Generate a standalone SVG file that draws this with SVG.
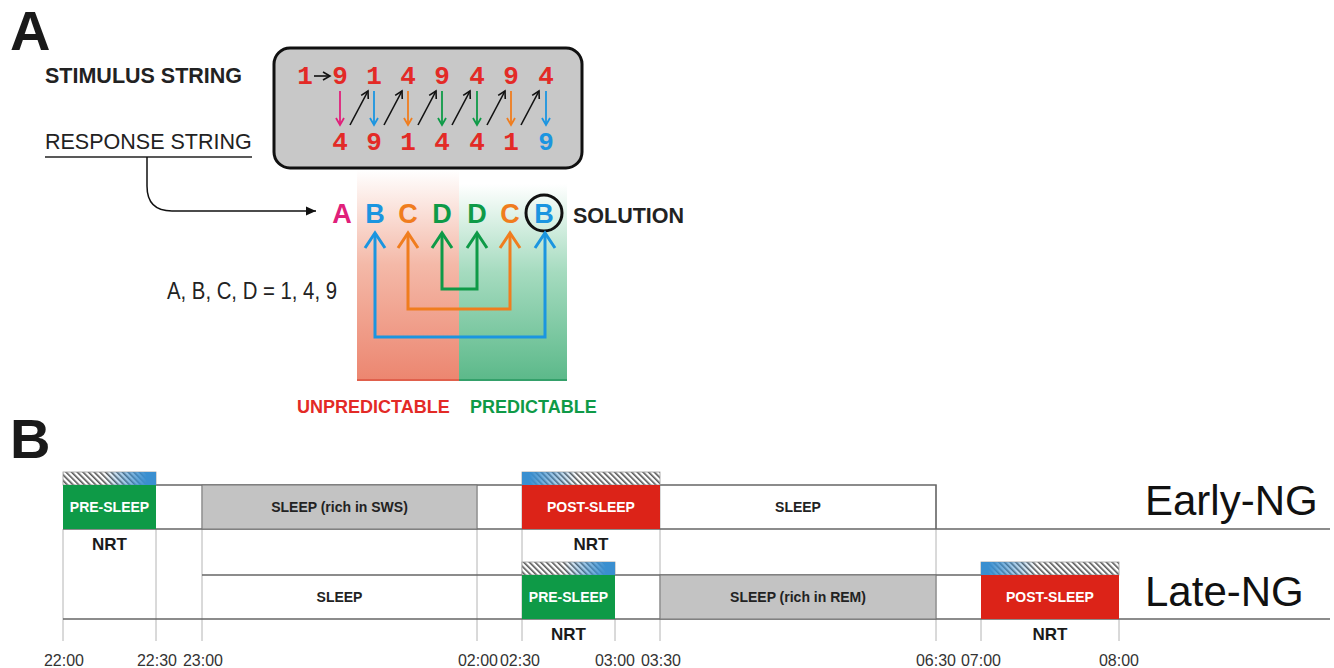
<svg xmlns="http://www.w3.org/2000/svg" width="1334" height="668" viewBox="0 0 1334 668">
<style>
text{font-family:"Liberation Sans",Arial,sans-serif}
.big{font-size:56px;font-weight:bold;fill:#1a1a1a}
.lbl{font-size:21.5px;fill:#222}
.b{font-weight:bold}
.dig{font-family:"Liberation Mono","Courier New",monospace;font-size:26px;font-weight:bold;text-anchor:middle}
.let{font-size:27px;font-weight:bold;text-anchor:middle}
.red{fill:#e32a26}.blue{fill:#1b95e0}.orange{fill:#f07d1e}.green{fill:#0e9a47}.mag{fill:#e0207a}
.bx{font-size:14px;font-weight:bold;text-anchor:middle}
.wt{fill:#fff}.dk{fill:#222}
.nrt{font-size:17px;font-weight:bold;text-anchor:middle;fill:#1a1a1a}
.tm{font-size:16px;text-anchor:middle;fill:#333}
.grp{font-size:42px;fill:#111}
.grid{stroke:#b4b4b4;stroke-width:1;fill:none}
.row{stroke:#666;stroke-width:1.5;fill:none}
.hb{stroke:#999;stroke-width:0.8}
</style>
<defs>
<pattern id="hatch" width="4" height="4" patternUnits="userSpaceOnUse" patternTransform="rotate(-45)">
<rect width="4" height="4" fill="#fff"/><rect width="1.6" height="4" fill="#555"/>
</pattern>
<linearGradient id="blueR" x1="0" x2="1" y1="0" y2="0">
<stop offset="0.45" stop-color="#3a8fd0" stop-opacity="0"/><stop offset="0.9" stop-color="#3a8fd0" stop-opacity="1"/>
</linearGradient>
<linearGradient id="blueL" x1="0" x2="1" y1="0" y2="0">
<stop offset="0.05" stop-color="#3a8fd0" stop-opacity="1"/><stop offset="0.4" stop-color="#3a8fd0" stop-opacity="0"/>
</linearGradient>
<linearGradient id="gRed" x1="0" x2="0" y1="0" y2="1">
<stop offset="0" stop-color="#ffffff"/><stop offset="0.45" stop-color="#f4b9a8"/><stop offset="1" stop-color="#ec8670"/>
</linearGradient>
<linearGradient id="gGreen" x1="0" x2="0" y1="0" y2="1">
<stop offset="0" stop-color="#ffffff"/><stop offset="0.45" stop-color="#a5dbbf"/><stop offset="1" stop-color="#5cb98a"/>
</linearGradient>
<marker id="mBlue" viewBox="-20 -12 24 24" markerWidth="24" markerHeight="24" refX="0" refY="0" orient="auto-start-reverse" markerUnits="userSpaceOnUse"><path d="M-15,-10 L0,0 L-15,10" fill="none" stroke="#1b95e0" stroke-width="3"/></marker>
<marker id="mOrange" viewBox="-20 -12 24 24" markerWidth="24" markerHeight="24" refX="0" refY="0" orient="auto-start-reverse" markerUnits="userSpaceOnUse"><path d="M-15,-10 L0,0 L-15,10" fill="none" stroke="#f07d1e" stroke-width="3"/></marker>
<marker id="mGreen" viewBox="-20 -12 24 24" markerWidth="24" markerHeight="24" refX="0" refY="0" orient="auto-start-reverse" markerUnits="userSpaceOnUse"><path d="M-15,-10 L0,0 L-15,10" fill="none" stroke="#0e9a47" stroke-width="3"/></marker>
<marker id="sBlack" viewBox="-10 -6 12 12" markerWidth="12" markerHeight="12" refX="0" refY="0" orient="auto" markerUnits="userSpaceOnUse"><path d="M-7,-4 L0,0 L-7,4" fill="none" stroke="#111" stroke-width="1.6"/></marker>
<marker id="sBlue" viewBox="-10 -6 12 12" markerWidth="12" markerHeight="12" refX="0" refY="0" orient="auto" markerUnits="userSpaceOnUse"><path d="M-7,-4 L0,0 L-7,4" fill="none" stroke="#1b95e0" stroke-width="1.8"/></marker>
<marker id="sOrange" viewBox="-10 -6 12 12" markerWidth="12" markerHeight="12" refX="0" refY="0" orient="auto" markerUnits="userSpaceOnUse"><path d="M-7,-4 L0,0 L-7,4" fill="none" stroke="#f07d1e" stroke-width="1.8"/></marker>
<marker id="sGreen" viewBox="-10 -6 12 12" markerWidth="12" markerHeight="12" refX="0" refY="0" orient="auto" markerUnits="userSpaceOnUse"><path d="M-7,-4 L0,0 L-7,4" fill="none" stroke="#0e9a47" stroke-width="1.8"/></marker>
<marker id="sMag" viewBox="-10 -6 12 12" markerWidth="12" markerHeight="12" refX="0" refY="0" orient="auto" markerUnits="userSpaceOnUse"><path d="M-7,-4 L0,0 L-7,4" fill="none" stroke="#e0207a" stroke-width="1.8"/></marker>
<marker id="rBlack" viewBox="-12 -6 14 12" markerWidth="14" markerHeight="12" refX="0" refY="0" orient="auto" markerUnits="userSpaceOnUse"><path d="M-10,-4.5 L0,0 L-10,4.5 Z" fill="#111"/></marker>
</defs>

<!-- Panel A -->
<g id="panelA-label"><text class="big" x="10" y="50">A</text></g>
<g id="stimulus-label"><text class="lbl b" x="45" y="83">STIMULUS STRING</text></g>
<g id="response-label"><text class="lbl" x="45" y="149">RESPONSE STRING</text>
<line x1="45" y1="157" x2="252" y2="157" stroke="#222" stroke-width="1.5"/></g>

<g id="columns">
<rect x="357" y="170" width="102" height="210" fill="url(#gRed)"/>
<rect x="459" y="184" width="108" height="196" fill="url(#gGreen)"/>
<line x1="357" y1="380" x2="459" y2="380" stroke="#e0604c" stroke-width="2"/>
<line x1="459" y1="380" x2="567" y2="380" stroke="#34a06a" stroke-width="2"/>
</g>

<g id="string-box">
<rect x="274" y="48" width="308" height="120" rx="16" fill="#c8c8c8" stroke="#111" stroke-width="3"/>
<text class="dig red" x="305" y="84">1</text>
<text class="dig red" x="340" y="84">9</text>
<text class="dig red" x="374" y="84">1</text>
<text class="dig red" x="408" y="84">4</text>
<text class="dig red" x="442" y="84">9</text>
<text class="dig red" x="477" y="84">4</text>
<text class="dig red" x="511" y="84">9</text>
<text class="dig red" x="546" y="84">4</text>
<text class="dig red" x="340" y="150">4</text>
<text class="dig red" x="374" y="150">9</text>
<text class="dig red" x="408" y="150">1</text>
<text class="dig red" x="442" y="150">4</text>
<text class="dig red" x="477" y="150">4</text>
<text class="dig red" x="511" y="150">1</text>
<text class="dig blue" x="546" y="150">9</text>
</g>

<g id="box-arrows" fill="none" stroke-width="1.8">
<line x1="314" y1="76" x2="330" y2="76" stroke="#111" stroke-width="1.6" marker-end="url(#sBlack)"/>
<line x1="340" y1="91" x2="340" y2="125" stroke="#e0207a" marker-end="url(#sMag)"/>
<line x1="374" y1="91" x2="374" y2="125" stroke="#1b95e0" marker-end="url(#sBlue)"/>
<line x1="408" y1="91" x2="408" y2="125" stroke="#f07d1e" marker-end="url(#sOrange)"/>
<line x1="442" y1="91" x2="442" y2="125" stroke="#0e9a47" marker-end="url(#sGreen)"/>
<line x1="477" y1="91" x2="477" y2="125" stroke="#0e9a47" marker-end="url(#sGreen)"/>
<line x1="511" y1="91" x2="511" y2="125" stroke="#f07d1e" marker-end="url(#sOrange)"/>
<line x1="546" y1="91" x2="546" y2="125" stroke="#1b95e0" marker-end="url(#sBlue)"/>
<g stroke="#111" stroke-width="1.6">
<line x1="350" y1="125" x2="368" y2="91" marker-end="url(#sBlack)"/>
<line x1="384" y1="125" x2="402" y2="91" marker-end="url(#sBlack)"/>
<line x1="418" y1="125" x2="436" y2="91" marker-end="url(#sBlack)"/>
<line x1="452" y1="125" x2="470" y2="91" marker-end="url(#sBlack)"/>
<line x1="487" y1="125" x2="505" y2="91" marker-end="url(#sBlack)"/>
<line x1="521" y1="125" x2="539" y2="91" marker-end="url(#sBlack)"/>
</g>
</g>

<g id="solution-row">
<text class="let mag" x="342" y="223">A</text>
<text class="let blue" x="375" y="223">B</text>
<text class="let orange" x="408" y="223">C</text>
<text class="let green" x="442" y="223">D</text>
<text class="let green" x="477" y="223">D</text>
<text class="let orange" x="510" y="223">C</text>
<text class="let blue" x="544" y="223">B</text>
<circle cx="544" cy="213" r="18" fill="none" stroke="#111" stroke-width="3"/>
<text class="lbl b" x="573" y="223">SOLUTION</text>
</g>

<g id="connectors" fill="none">
<path d="M147,157 V186 Q147,211 172,211 H316" stroke="#111" stroke-width="1.5" marker-end="url(#rBlack)"/>
<path d="M375,233 V337 H545 V233" stroke="#1b95e0" stroke-width="3" marker-start="url(#mBlue)" marker-end="url(#mBlue)"/>
<path d="M408,233 V309 H510 V233" stroke="#f07d1e" stroke-width="3" marker-start="url(#mOrange)" marker-end="url(#mOrange)"/>
<path d="M442,233 V289 H477 V233" stroke="#0e9a47" stroke-width="3" marker-start="url(#mGreen)" marker-end="url(#mGreen)"/>
</g>

<g id="equation"><text x="167" y="299" font-size="23" fill="#222" textLength="170" lengthAdjust="spacingAndGlyphs">A, B, C, D = 1, 4, 9</text></g>
<g id="predictability">
<text x="297" y="413" font-size="18" font-weight="bold" class="red">UNPREDICTABLE</text>
<text x="470" y="413" font-size="18" font-weight="bold" class="green">PREDICTABLE</text>
</g>

<!-- Panel B -->
<g id="panelB-label"><text class="big" x="10" y="458" font-size="54">B</text></g>

<g id="grid">
<line class="grid" x1="63" y1="529" x2="63" y2="641"/>
<line class="grid" x1="156" y1="529" x2="156" y2="641"/>
<line class="grid" x1="202" y1="485" x2="202" y2="641"/>
<line class="grid" x1="477" y1="485" x2="477" y2="641"/>
<line class="grid" x1="522" y1="485" x2="522" y2="641"/>
<line class="grid" x1="615" y1="619" x2="615" y2="641"/>
<line class="grid" x1="660" y1="485" x2="660" y2="641"/>
<line class="grid" x1="936" y1="485" x2="936" y2="641"/>
<line class="grid" x1="981" y1="619" x2="981" y2="641"/>
<line class="grid" x1="1119" y1="619" x2="1119" y2="641"/>
</g>

<g id="early-row">
<path class="row" d="M156,485 H936 V529"/>
<line class="row" x1="63" y1="529" x2="1330" y2="529"/>
<rect x="202" y="485" width="275" height="44" fill="#c3c3c3" stroke="#777" stroke-width="1"/>
<text class="bx dk" x="339.5" y="512">SLEEP (rich in SWS)</text>
<text class="bx dk" x="798" y="512">SLEEP</text>
</g>
<g id="early-pre">
<rect x="63" y="472" width="93" height="13" fill="url(#hatch)" class="hb"/>
<rect x="63" y="472" width="93" height="13" fill="url(#blueR)"/>
<rect x="63" y="485" width="93" height="44" fill="#0e9a47"/>
<text class="bx wt" x="109.5" y="512">PRE-SLEEP</text>
<text class="nrt" x="109.5" y="550">NRT</text>
</g>
<g id="early-post">
<rect x="522" y="472" width="138" height="13" fill="url(#hatch)" class="hb"/>
<rect x="522" y="472" width="138" height="13" fill="url(#blueL)"/>
<rect x="522" y="485" width="138" height="44" fill="#dc2318"/>
<text class="bx wt" x="591" y="512">POST-SLEEP</text>
<text class="nrt" x="591" y="550">NRT</text>
</g>

<g id="late-row">
<line class="row" x1="202" y1="575" x2="981" y2="575"/>
<line class="row" x1="63" y1="619" x2="1330" y2="619"/>
<text class="bx dk" x="339.5" y="602">SLEEP</text>
<rect x="660" y="575" width="276" height="44" fill="#c3c3c3" stroke="#777" stroke-width="1"/>
<text class="bx dk" x="798" y="602">SLEEP (rich in REM)</text>
</g>
<g id="late-pre">
<rect x="522" y="562" width="93" height="13" fill="url(#hatch)" class="hb"/>
<rect x="522" y="562" width="93" height="13" fill="url(#blueR)"/>
<rect x="522" y="575" width="93" height="44" fill="#0e9a47"/>
<text class="bx wt" x="568.5" y="602">PRE-SLEEP</text>
<text class="nrt" x="568.5" y="640">NRT</text>
</g>
<g id="late-post">
<rect x="981" y="562" width="138" height="13" fill="url(#hatch)" class="hb"/>
<rect x="981" y="562" width="138" height="13" fill="url(#blueL)"/>
<rect x="981" y="575" width="138" height="44" fill="#dc2318"/>
<text class="bx wt" x="1050" y="602">POST-SLEEP</text>
<text class="nrt" x="1050" y="640">NRT</text>
</g>

<g id="group-labels">
<text class="grp" x="1145" y="515">Early-NG</text>
<text class="grp" x="1145" y="606">Late-NG</text>
</g>

<g id="time-axis">
<text class="tm" x="64" y="666">22:00</text>
<text class="tm" x="157" y="666">22:30</text>
<text class="tm" x="203" y="666">23:00</text>
<text class="tm" x="478" y="666">02:00</text>
<text class="tm" x="520" y="666">02:30</text>
<text class="tm" x="615" y="666">03:00</text>
<text class="tm" x="661" y="666">03:30</text>
<text class="tm" x="936" y="666">06:30</text>
<text class="tm" x="981" y="666">07:00</text>
<text class="tm" x="1119" y="666">08:00</text>
</g>
</svg>
